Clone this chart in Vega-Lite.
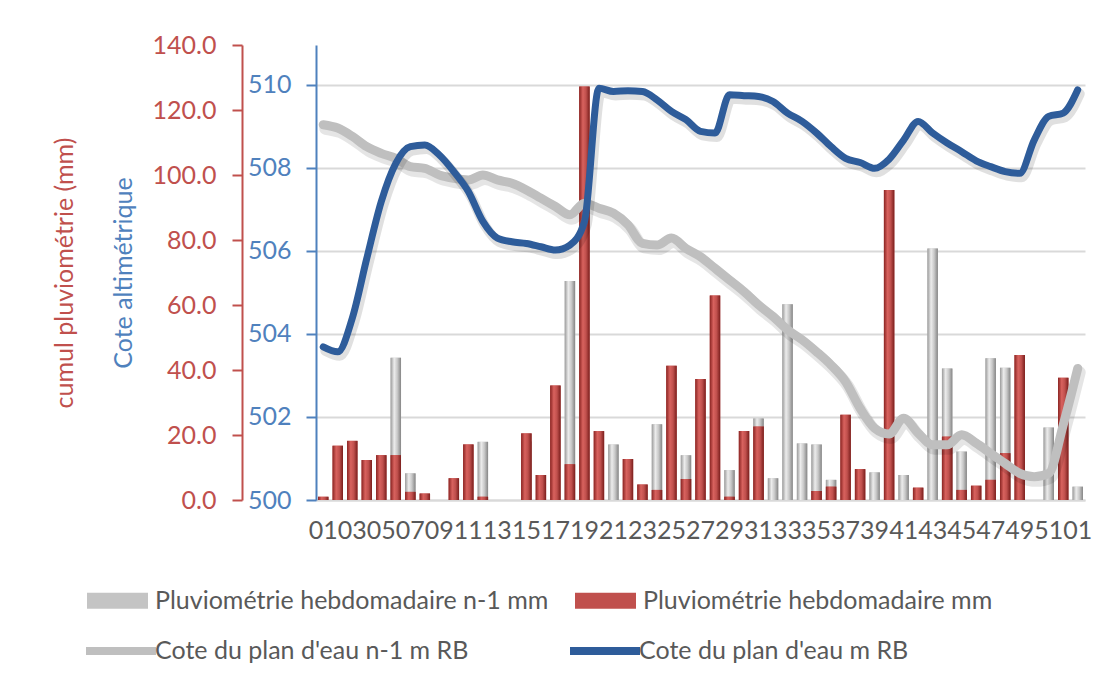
{
  "$schema": "https://vega.github.io/schema/vega-lite/v6.json",
  "width": 769,
  "height": 455,
  "autosize": {"type": "none"},
  "padding": {"left": 316, "top": 45, "right": 24, "bottom": 184},
  "background": "white",
  "config": {
    "font": "Lato",
    "view": {"stroke": null},
    "axis": {"labelFont": "Lato", "titleFont": "Lato", "labelFontSize": 25, "titleFontSize": 25, "titleFontWeight": "normal"},
    "legend": {"labelFont": "Lato", "labelFontSize": 25, "labelColor": "#595959", "padding": 0, "labelLimit": 0}
  },
  "data": {
    "values": [
      {"semaine": 1, "pluie_n1": 0, "pluie": 1.0, "cote_n1": 509.04, "cote": 503.69},
      {"semaine": 2, "pluie_n1": 0, "pluie": 16.7, "cote_n1": 508.96, "cote": 503.57},
      {"semaine": 3, "pluie_n1": 0, "pluie": 18.2, "cote_n1": 508.76, "cote": 504.38},
      {"semaine": 4, "pluie_n1": 0, "pluie": 12.3, "cote_n1": 508.51, "cote": 505.82},
      {"semaine": 5, "pluie_n1": 0, "pluie": 13.8, "cote_n1": 508.35, "cote": 507.19},
      {"semaine": 6, "pluie_n1": 43.8, "pluie": 13.8, "cote_n1": 508.23, "cote": 508.11},
      {"semaine": 7, "pluie_n1": 8.2, "pluie": 2.5, "cote_n1": 508.03, "cote": 508.51},
      {"semaine": 8, "pluie_n1": 0, "pluie": 2.0, "cote_n1": 507.99, "cote": 508.55},
      {"semaine": 9, "pluie_n1": 0, "pluie": 0, "cote_n1": 507.83, "cote": 508.31},
      {"semaine": 10, "pluie_n1": 0, "pluie": 6.7, "cote_n1": 507.75, "cote": 507.91},
      {"semaine": 11, "pluie_n1": 0, "pluie": 17.1, "cote_n1": 507.71, "cote": 507.43},
      {"semaine": 12, "pluie_n1": 17.9, "pluie": 1.0, "cote_n1": 507.83, "cote": 506.71},
      {"semaine": 13, "pluie_n1": 0, "pluie": 0, "cote_n1": 507.71, "cote": 506.31},
      {"semaine": 14, "pluie_n1": 0, "pluie": 0, "cote_n1": 507.63, "cote": 506.22},
      {"semaine": 15, "pluie_n1": 18.0, "pluie": 20.5, "cote_n1": 507.47, "cote": 506.18},
      {"semaine": 16, "pluie_n1": 0, "pluie": 7.7, "cote_n1": 507.27, "cote": 506.10},
      {"semaine": 17, "pluie_n1": 0, "pluie": 35.2, "cote_n1": 507.07, "cote": 506.02},
      {"semaine": 18, "pluie_n1": 67.4, "pluie": 11.0, "cote_n1": 506.87, "cote": 506.14},
      {"semaine": 19, "pluie_n1": 0, "pluie": 127.2, "cote_n1": 507.15, "cote": 506.7},
      {"semaine": 20, "pluie_n1": 0, "pluie": 21.2, "cote_n1": 507.03, "cote": 509.92},
      {"semaine": 21, "pluie_n1": 17.1, "pluie": 0, "cote_n1": 506.91, "cote": 509.84},
      {"semaine": 22, "pluie_n1": 0, "pluie": 12.6, "cote_n1": 506.63, "cote": 509.86},
      {"semaine": 23, "pluie_n1": 0, "pluie": 4.8, "cote_n1": 506.18, "cote": 509.84},
      {"semaine": 24, "pluie_n1": 23.3, "pluie": 3.1, "cote_n1": 506.14, "cote": 509.64},
      {"semaine": 25, "pluie_n1": 0, "pluie": 41.3, "cote_n1": 506.31, "cote": 509.36},
      {"semaine": 26, "pluie_n1": 13.8, "pluie": 6.5, "cote_n1": 506.06, "cote": 509.16},
      {"semaine": 27, "pluie_n1": 0, "pluie": 37.2, "cote_n1": 505.86, "cote": 508.88},
      {"semaine": 28, "pluie_n1": 0, "pluie": 62.9, "cote_n1": 505.58, "cote": 508.84},
      {"semaine": 29, "pluie_n1": 9.2, "pluie": 1.0, "cote_n1": 505.30, "cote": 509.76},
      {"semaine": 30, "pluie_n1": 0, "pluie": 21.2, "cote_n1": 505.02, "cote": 509.74},
      {"semaine": 31, "pluie_n1": 25.1, "pluie": 22.6, "cote_n1": 504.70, "cote": 509.72},
      {"semaine": 32, "pluie_n1": 6.7, "pluie": 0, "cote_n1": 504.42, "cote": 509.60},
      {"semaine": 33, "pluie_n1": 60.2, "pluie": 0, "cote_n1": 504.10, "cote": 509.32},
      {"semaine": 34, "pluie_n1": 17.4, "pluie": 0, "cote_n1": 503.86, "cote": 509.12},
      {"semaine": 35, "pluie_n1": 17.1, "pluie": 2.8, "cote_n1": 503.57, "cote": 508.84},
      {"semaine": 36, "pluie_n1": 6.2, "pluie": 4.1, "cote_n1": 503.25, "cote": 508.51},
      {"semaine": 37, "pluie_n1": 0, "pluie": 26.2, "cote_n1": 502.85, "cote": 508.23},
      {"semaine": 38, "pluie_n1": 0, "pluie": 9.5, "cote_n1": 502.21, "cote": 508.13},
      {"semaine": 39, "pluie_n1": 8.5, "pluie": 0, "cote_n1": 501.73, "cote": 507.99},
      {"semaine": 40, "pluie_n1": 0, "pluie": 95.4, "cote_n1": 501.59, "cote": 508.21},
      {"semaine": 41, "pluie_n1": 7.7, "pluie": 0, "cote_n1": 501.97, "cote": 508.67},
      {"semaine": 42, "pluie_n1": 0, "pluie": 3.8, "cote_n1": 501.61, "cote": 509.12},
      {"semaine": 43, "pluie_n1": 77.4, "pluie": 0, "cote_n1": 501.33, "cote": 508.84},
      {"semaine": 44, "pluie_n1": 40.5, "pluie": 19.5, "cote_n1": 501.33, "cote": 508.60},
      {"semaine": 45, "pluie_n1": 14.9, "pluie": 3.1, "cote_n1": 501.57, "cote": 508.39},
      {"semaine": 46, "pluie_n1": 0, "pluie": 4.4, "cote_n1": 501.37, "cote": 508.17},
      {"semaine": 47, "pluie_n1": 43.6, "pluie": 6.2, "cote_n1": 501.12, "cote": 508.03},
      {"semaine": 48, "pluie_n1": 40.7, "pluie": 14.4, "cote_n1": 500.88, "cote": 507.91},
      {"semaine": 49, "pluie_n1": 0, "pluie": 44.6, "cote_n1": 500.64, "cote": 507.87},
      {"semaine": 50, "pluie_n1": 0, "pluie": 0, "cote_n1": 500.56, "cote": 508.67},
      {"semaine": 51, "pluie_n1": 22.3, "pluie": 0, "cote_n1": 500.64, "cote": 509.24},
      {"semaine": 52, "pluie_n1": 0, "pluie": 37.6, "cote_n1": 501.81, "cote": 509.32},
      {"semaine": 53, "pluie_n1": 4.1, "pluie": 0, "cote_n1": 503.17, "cote": 509.88}
    ]
  },
  "encoding": {
    "x": {
      "field": "semaine",
      "type": "ordinal",
      "scale": {"paddingInner": 0.28, "paddingOuter": 0.14},
      "axis": {
        "title": null,
        "labelExpr": "datum.value % 2 == 1 ? (datum.value == 53 ? '01' : (datum.value < 10 ? '0' + datum.value : '' + datum.value)) : ''",
        "labelAngle": 0,
        "labelOverlap": false,
        "ticks": false,
        "tickSize": 0,
        "labelPadding": 18,
        "labelColor": "#595959",
        "domainColor": "#d9d9d9",
        "domainWidth": 2
      }
    }
  },
  "layer": [
    {
      "encoding": {
        "y": {
          "type": "quantitative",
          "scale": {"domain": [0, 140], "nice": false},
          "axis": {
            "orient": "left", "offset": 74, "title": "cumul pluviométrie (mm)", "titleColor": "#c0504d", "titlePadding": 75,
            "values": [0, 20, 40, 60, 80, 100, 120, 140], "format": ".1f", "labelColor": "#c0504d", "labelPadding": 16,
            "domainColor": "#c0504d", "domainWidth": 2, "tickColor": "#c0504d", "tickWidth": 2, "tickSize": 10, "grid": false
          }
        }
      },
      "layer": [
        {
          "mark": {"type": "bar"},
          "encoding": {
            "y": {"field": "pluie_n1"},
            "fill": {
              "datum": "Pluviométrie hebdomadaire n-1 mm",
              "type": "nominal",
              "scale": {
                "domain": ["Pluviométrie hebdomadaire n-1 mm", "Pluviométrie hebdomadaire mm"],
                "range": ["#c4c4c4", "#c0504d"]
              },
              "legend": {
                "title": null, "orient": "none", "legendX": -229, "legendY": 525, "direction": "horizontal", "columns": 2,
                "symbolType": "M-1,-0.26H1V0.26H-1Z", "symbolSize": 3721, "symbolStrokeWidth": 0, "labelOffset": 7, "columnPadding": 26
              }
            }
          }
        },
        {
          "mark": {"type": "bar", "fill": {"gradient": "linear", "x1": 0, "y1": 0, "x2": 1, "y2": 0, "stops": [{"offset": 0, "color": "#9a9a9a"}, {"offset": 0.35, "color": "#ececec"}, {"offset": 0.65, "color": "#c8c8c8"}, {"offset": 1, "color": "#858585"}]}},
          "encoding": {"y": {"field": "pluie_n1"}}
        },
        {
          "mark": {"type": "bar"},
          "encoding": {
            "y": {"field": "pluie"},
            "fill": {"datum": "Pluviométrie hebdomadaire mm", "type": "nominal"}
          }
        },
        {
          "mark": {"type": "bar", "fill": {"gradient": "linear", "x1": 0, "y1": 0, "x2": 1, "y2": 0, "stops": [{"offset": 0, "color": "#8a2422"}, {"offset": 0.35, "color": "#d8625e"}, {"offset": 0.65, "color": "#c0504d"}, {"offset": 1, "color": "#7a1e1c"}]}},
          "encoding": {"y": {"field": "pluie"}}
        }
      ]
    },
    {
      "encoding": {
        "y": {
          "type": "quantitative",
          "scale": {"domain": [500, 510.96], "nice": false, "zero": false},
          "axis": {
            "orient": "left", "offset": 0, "title": "Cote altimétrique", "titleColor": "#4f81bd", "titlePadding": 111,
            "values": [500, 502, 504, 506, 508, 510], "format": "d", "labelColor": "#4f81bd", "labelPadding": 15,
            "domainColor": "#4f81bd", "domainWidth": 2, "tickColor": "#4f81bd", "tickWidth": 2, "tickSize": 10,
            "grid": true, "gridColor": "#d9d9d9", "gridWidth": 2
          }
        }
      },
      "layer": [
        {
          "mark": {"type": "line", "interpolate": "monotone", "strokeWidth": 12, "stroke": "#000000", "strokeOpacity": 0.1, "xOffset": 2, "yOffset": 4, "strokeCap": "round", "strokeJoin": "round"},
          "encoding": {"y": {"field": "cote_n1"}}
        },
        {
          "mark": {"type": "line", "interpolate": "monotone", "strokeWidth": 9, "strokeCap": "round", "strokeJoin": "round"},
          "encoding": {
            "y": {"field": "cote_n1"},
            "stroke": {
              "datum": "Cote du plan d'eau n-1 m RB",
              "type": "nominal",
              "scale": {"domain": ["Cote du plan d'eau n-1 m RB", "Cote du plan d'eau m RB"], "range": ["#bfbfbf", "#2e5c9a"]},
              "legend": {
                "title": null, "orient": "none", "legendX": -234, "legendY": 567, "direction": "horizontal", "columns": 2,
                "symbolType": "stroke", "symbolSize": 4900, "symbolStrokeWidth": 8, "labelOffset": -5, "columnPadding": 85
              }
            }
          }
        },
        {
          "mark": {"type": "line", "interpolate": "monotone", "strokeWidth": 10, "stroke": "#000000", "strokeOpacity": 0.12, "xOffset": 2, "yOffset": 4, "strokeCap": "round", "strokeJoin": "round"},
          "encoding": {"y": {"field": "cote"}}
        },
        {
          "mark": {"type": "line", "interpolate": "monotone", "strokeWidth": 7, "strokeCap": "round", "strokeJoin": "round"},
          "encoding": {
            "y": {"field": "cote"},
            "stroke": {"datum": "Cote du plan d'eau m RB", "type": "nominal"}
          }
        }
      ]
    }
  ],
  "resolve": {"scale": {"y": "independent"}}
}
